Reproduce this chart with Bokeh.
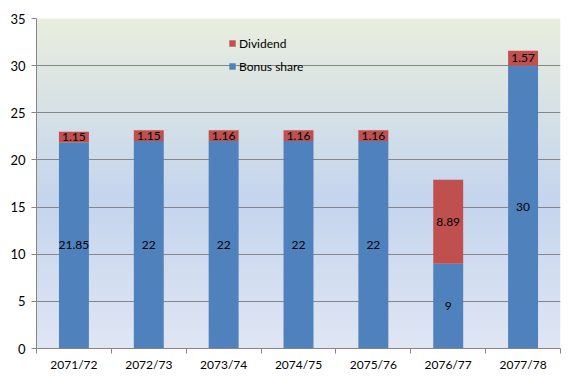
import numpy as np
from bokeh.plotting import figure
from bokeh.models import FixedTicker, Range1d, ColumnDataSource, Legend, LegendItem
from bokeh.core.properties import value
from bokeh.embed import file_html
from bokeh.resources import INLINE

years = ["2071/72", "2072/73", "2073/74", "2074/75", "2075/76", "2076/77", "2077/78"]
bonus = [21.85, 22, 22, 22, 22, 9, 30]
dividend = [1.15, 1.15, 1.16, 1.16, 1.16, 8.89, 1.57]
bonus_labels = ["21.85", "22", "22", "22", "22", "9", "30"]
dividend_labels = ["1.15", "1.15", "1.16", "1.16", "1.16", "8.89", "1.57"]
y_ticks = [0, 5, 10, 15, 20, 25, 30, 35]

BLUE = "#4F81BD"
RED = "#C0504D"
GRID = "#868686"
FONT = "Lato"

n = len(years)
xc = [i + 0.5 for i in range(n)]
tops = [b + d for b, d in zip(bonus, dividend)]

p = figure(width=579, height=379, output_backend="svg", toolbar_location=None,
           x_range=Range1d(0, n), y_range=Range1d(0, 35),
           min_border_left=36, min_border_right=19, min_border_top=18, min_border_bottom=31)
p.outline_line_color = None
p.background_fill_color = "white"
p.border_fill_color = "white"

# plot-area gradient (decorative background)
stops_y = np.array([0.0, 0.45, 1.0])  # fraction from bottom
stops_c = np.array([[224, 230, 244], [197, 213, 238], [233, 238, 222]], dtype=float)
rows = 200
fr = (np.arange(rows) + 0.5) / rows
img = np.zeros((rows, 1), dtype=np.uint32)
view = img.view(dtype=np.uint8).reshape((rows, 1, 4))
for k in range(3):
    view[:, 0, k] = np.interp(fr, stops_y, stops_c[:, k]).astype(np.uint8)
view[:, 0, 3] = 255
p.image_rgba(image=[img], x=0, y=0, dw=n, dh=35, level="image")

src = ColumnDataSource(dict(x=xc, bonus=bonus, dividend=dividend, top=tops,
                            bl=bonus_labels, dl=dividend_labels,
                            by=[b / 2 for b in bonus],
                            dy=[b + d / 2 for b, d in zip(bonus, dividend)]))

rb = p.vbar(x="x", width=0.4, bottom=0, top="bonus", source=src, fill_color=BLUE, line_color=None)
rd = p.vbar(x="x", width=0.4, bottom="bonus", top="top", source=src, fill_color=RED, line_color=None)

p.text(x="x", y="by", text="bl", source=src, text_align="center", text_baseline="middle",
       text_font=value(FONT), text_font_size="12px", text_color="black")
p.text(x="x", y="dy", text="dl", source=src, text_align="center", text_baseline="middle",
       text_font=value(FONT), text_font_size="12px", text_color="black")

# axes
p.yaxis.ticker = FixedTicker(ticks=y_ticks)
p.ygrid.ticker = FixedTicker(ticks=y_ticks)
p.ygrid.grid_line_color = GRID
p.ygrid.grid_line_width = 1
p.xgrid.grid_line_color = None
p.yaxis.axis_line_color = GRID
p.yaxis.major_tick_line_color = GRID
p.yaxis.major_tick_out = 5
p.yaxis.major_tick_in = 0
p.yaxis.minor_tick_line_color = None
p.yaxis.major_label_standoff = 6
p.yaxis.major_label_text_font = FONT
p.yaxis.major_label_text_font_size = "13px"
p.yaxis.major_label_text_color = "black"

p.xaxis.ticker = FixedTicker(ticks=xc, minor_ticks=list(range(n + 1)))
p.xaxis.major_label_overrides = {x: y for x, y in zip(xc, years)}
p.xaxis.axis_line_color = GRID
p.xaxis.major_tick_line_color = None
p.xaxis.major_tick_out = 0
p.xaxis.major_tick_in = 0
p.xaxis.minor_tick_line_color = GRID
p.xaxis.minor_tick_out = 5
p.xaxis.minor_tick_in = 0
p.xaxis.major_label_standoff = 3
p.xaxis.major_label_text_font = FONT
p.xaxis.major_label_text_font_size = "12px"
p.xaxis.major_label_text_color = "black"

legend = Legend(items=[LegendItem(label="Dividend", renderers=[rd]),
                       LegendItem(label="Bonus share", renderers=[rb])],
                location=(192, 274))
legend.background_fill_alpha = 0
legend.border_line_color = None
legend.padding = 0
legend.margin = 0
legend.spacing = 7
legend.glyph_width = 8
legend.glyph_height = 8
legend.label_height = 16
legend.label_standoff = 3
legend.label_text_font = FONT
legend.label_text_font_size = "12px"
legend.label_text_color = "black"
p.add_layout(legend, "center")

open("out.html", "w").write(file_html(p, INLINE))
